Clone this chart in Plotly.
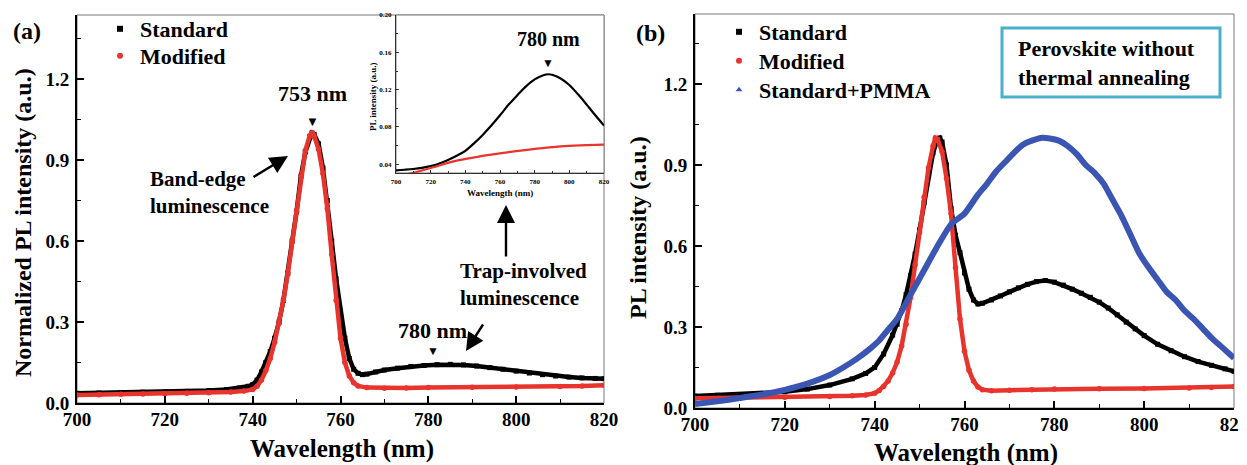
import plotly.graph_objects as go

# ---------------- DATA ----------------
# Panel (a): normalized PL
a_std_x = [700, 705, 710, 715, 720, 725, 730, 734, 737, 739, 740, 741, 742, 743, 744, 745, 746, 747, 748, 749,
           750, 751, 752, 753, 753.5, 754, 755, 756, 757, 758, 759, 760, 761, 762, 763, 764, 765, 766, 768, 770,
           773, 776, 779, 782, 785, 788, 791, 794, 797, 800, 803, 806, 809, 812, 815, 818, 820]
a_std_y = [0.036, 0.037, 0.038, 0.040, 0.041, 0.043, 0.046, 0.050, 0.055, 0.062, 0.068, 0.085, 0.115, 0.150, 0.190,
           0.240, 0.300, 0.380, 0.480, 0.600, 0.710, 0.840, 0.930, 0.985, 1.000, 0.995, 0.960, 0.870, 0.750, 0.600,
           0.460, 0.340, 0.240, 0.165, 0.125, 0.110, 0.105, 0.107, 0.115, 0.122, 0.129, 0.135, 0.139, 0.142, 0.143,
           0.141, 0.137, 0.131, 0.125, 0.118, 0.111, 0.105, 0.100, 0.096, 0.093, 0.091, 0.090]

a_mod_x = [700, 705, 710, 715, 720, 725, 730, 735, 738, 740, 741, 742, 743, 744, 745, 746, 747, 748, 749, 750,
           751, 752, 753, 753.5, 754, 755, 756, 757, 758, 759, 760, 761, 762, 763, 764, 766, 770, 775, 780, 790,
           800, 810, 815, 820]
a_mod_y = [0.030, 0.031, 0.032, 0.033, 0.034, 0.036, 0.038, 0.041, 0.044, 0.050, 0.062, 0.085, 0.120, 0.165, 0.225,
           0.295, 0.380, 0.480, 0.600, 0.710, 0.840, 0.935, 0.990, 1.000, 0.990, 0.940, 0.850, 0.720, 0.550, 0.380,
           0.240, 0.150, 0.100, 0.075, 0.063, 0.057, 0.055, 0.056, 0.057, 0.058, 0.059, 0.061, 0.063, 0.066]

# Inset (raw PL)
in_std_x = [700, 705, 710, 715, 720, 725, 730, 735, 740, 745, 750, 755, 760, 765, 770, 775, 780, 785, 788, 790,
            795, 800, 805, 810, 815, 820]
in_std_y = [0.0336, 0.0342, 0.0350, 0.0362, 0.0380, 0.0408, 0.0447, 0.0492, 0.0545, 0.0625, 0.0715, 0.0815,
            0.0925, 0.1040, 0.1140, 0.1235, 0.1310, 0.1355, 0.1365, 0.1360, 0.1320, 0.1250, 0.1150, 0.1040,
            0.0925, 0.0815]
in_mod_x = [700, 708, 720, 735, 750, 765, 780, 795, 810, 820]
in_mod_y = [0.0270, 0.0300, 0.0360, 0.0440, 0.0490, 0.0530, 0.0565, 0.0592, 0.0605, 0.0612]

# Panel (b): PL intensity
b_std_x = [700, 705, 710, 715, 720, 725, 730, 735, 738, 740, 742, 744, 745, 746, 747, 748, 749, 750, 751, 752,
           753, 754, 754.5, 755, 756, 757, 758, 759, 760, 761, 762, 763, 764, 766, 768, 770, 772, 774, 776, 778,
           780, 782, 784, 786, 788, 790, 792, 794, 796, 798, 800, 803, 806, 809, 812, 815, 818, 820]
b_std_y = [0.044, 0.047, 0.050, 0.054, 0.060, 0.070, 0.085, 0.108, 0.128, 0.150, 0.200, 0.270, 0.310, 0.360,
           0.420, 0.490, 0.570, 0.660, 0.760, 0.860, 0.945, 0.995, 1.000, 0.985, 0.900, 0.740, 0.640, 0.575,
           0.500, 0.440, 0.400, 0.385, 0.388, 0.400, 0.415, 0.430, 0.445, 0.458, 0.468, 0.472, 0.466, 0.455,
           0.440, 0.425, 0.410, 0.392, 0.370, 0.345, 0.318, 0.293, 0.268, 0.236, 0.212, 0.190, 0.172, 0.158,
           0.145, 0.136]

b_mod_x = [700, 710, 720, 730, 735, 738, 740, 741, 742, 743, 744, 745, 746, 747, 748, 749, 750, 751, 752, 753,
           753.5, 754, 755, 756, 757, 758, 759, 760, 761, 762, 763, 764, 766, 770, 775, 780, 790, 800, 810, 815, 820]
b_mod_y = [0.036, 0.038, 0.040, 0.043, 0.045, 0.048, 0.055, 0.065, 0.080, 0.100, 0.130, 0.170, 0.230, 0.310,
           0.410, 0.530, 0.650, 0.780, 0.890, 0.970, 1.000, 0.995, 0.950, 0.850, 0.720, 0.520, 0.330, 0.210,
           0.140, 0.100, 0.078, 0.068, 0.064, 0.066, 0.068, 0.070, 0.071, 0.072, 0.074, 0.076, 0.080]

b_pmma_x = [700, 705, 710, 715, 720, 725, 730, 733, 736, 739, 741, 743, 745, 748, 751, 754, 757, 760, 763, 765,
            767, 769, 771, 773, 775, 777, 779, 781, 783, 785, 787, 789, 791, 793, 795, 797, 799, 801, 803, 805,
            807, 809, 811, 813, 815, 817, 819, 820]
b_pmma_y = [0.015, 0.025, 0.037, 0.050, 0.067, 0.090, 0.122, 0.150, 0.182, 0.220, 0.250, 0.290, 0.330, 0.420,
            0.510, 0.600, 0.680, 0.720, 0.790, 0.830, 0.875, 0.910, 0.945, 0.975, 0.990, 1.000, 0.998, 0.990,
            0.970, 0.940, 0.900, 0.870, 0.830, 0.770, 0.710, 0.640, 0.570, 0.520, 0.475, 0.430, 0.400, 0.360,
            0.330, 0.295, 0.260, 0.230, 0.200, 0.185]

x_ticks = [700, 720, 740, 760, 780, 800, 820]
y_ticks = [0.0, 0.3, 0.6, 0.9, 1.2]
inset_y_ticks = [0.04, 0.08, 0.12, 0.16, 0.20]

# ---------------- STYLE ----------------
OFF = 8                      # page body margin of the html page
W, H = 1247, 465
FONT = "Liberation Serif, Times New Roman, serif"
BLACK = "#000000"
RED = "#E8342C"
BLUE = "#3A56B2"
CYAN = "#4AAFCB"


def PX(x):
    return (x - OFF) / W


def PY(y):
    return 1 - (y - OFF) / H


fig = go.Figure()

# panel a
fig.add_trace(go.Scatter(x=a_std_x, y=a_std_y, mode="lines+markers", xaxis="x", yaxis="y",
                         line=dict(color=BLACK, width=4.5), marker=dict(symbol="square", size=5, color=BLACK),
                         showlegend=False))
fig.add_trace(go.Scatter(x=a_mod_x, y=a_mod_y, mode="lines+markers", xaxis="x", yaxis="y",
                         line=dict(color=RED, width=4.5), marker=dict(symbol="circle", size=5.5, color=RED),
                         showlegend=False))
# inset
fig.add_trace(go.Scatter(x=in_std_x, y=in_std_y, mode="lines", xaxis="x3", yaxis="y3",
                         line=dict(color=BLACK, width=2.2, shape="spline"), showlegend=False))
fig.add_trace(go.Scatter(x=in_mod_x, y=in_mod_y, mode="lines", xaxis="x3", yaxis="y3",
                         line=dict(color=RED, width=2.2, shape="spline"), showlegend=False))
# panel b
fig.add_trace(go.Scatter(x=b_std_x, y=b_std_y, mode="lines+markers", xaxis="x2", yaxis="y2",
                         line=dict(color=BLACK, width=4.5), marker=dict(symbol="square", size=5, color=BLACK),
                         showlegend=False))
fig.add_trace(go.Scatter(x=b_mod_x, y=b_mod_y, mode="lines+markers", xaxis="x2", yaxis="y2",
                         line=dict(color=RED, width=4.5), marker=dict(symbol="circle", size=5.5, color=RED),
                         showlegend=False))
fig.add_trace(go.Scatter(x=b_pmma_x, y=b_pmma_y, mode="lines", xaxis="x2", yaxis="y2",
                         line=dict(color=BLUE, width=6, shape="spline", smoothing=0.6), showlegend=False))

# legend-only entries, one legend box per entry so each row can be placed like the reference
legend_items = [("Standard", "square", BLACK, "legend", 120, 29),
                ("Modified", "circle", RED, "legend2", 120, 56),
                ("Standard", "square", BLACK, "legend3", 739, 32),
                ("Modified", "circle", RED, "legend4", 739, 61),
                ("Standard+PMMA", "triangle-up", BLUE, "legend5", 739, 90)]
legend_layout = {}
for name, sym, col, lg, mx, my in legend_items:
    fig.add_trace(go.Scatter(x=[None], y=[None], mode="markers", name=name, legend=lg,
                             marker=dict(symbol=sym, size=6, color=col), showlegend=True))
    legend_layout[lg] = dict(x=PX(mx - 20), y=PY(my), xanchor="left", yanchor="middle",
                             bgcolor="rgba(0,0,0,0)", borderwidth=0,
                             font=dict(family=FONT, size=22, color="black", weight="bold"))

tickfont = dict(family=FONT, size=19, color="black", weight="bold")
common_x = dict(range=[700, 820], tickvals=x_ticks, ticks="inside", ticklen=7, tickwidth=1.5, tickcolor="black",
                minor=dict(dtick=10, ticks="inside", ticklen=4, tickwidth=1.2, tickcolor="black"),
                showline=True, linewidth=2, linecolor="black", showgrid=False, zeroline=False,
                tickfont=tickfont, ticklabelstandoff=-2, automargin=False)
common_y = dict(tickvals=y_ticks, tickformat=".1f", ticks="inside", ticklen=7, tickwidth=1.5, tickcolor="black",
                minor=dict(dtick=0.15, ticks="inside", ticklen=4, tickwidth=1.2, tickcolor="black"),
                showline=True, linewidth=2, linecolor="black", showgrid=False, zeroline=False,
                tickfont=tickfont, ticklabelstandoff=2, automargin=False)

inset_font = dict(family=FONT, size=7, color="black", weight="bold")

fig.update_layout(
    width=W, height=H, margin=dict(l=0, r=0, t=0, b=0, autoexpand=False),
    paper_bgcolor="white", plot_bgcolor="rgba(0,0,0,0)",
    font=dict(family=FONT, color="black", weight="bold"),
    xaxis=dict(domain=[PX(77), PX(604)], anchor="y", **common_x),
    yaxis=dict(domain=[PY(403), PY(15)], anchor="x", range=[0, 1.437], **common_y),
    xaxis2=dict(domain=[PX(695), PX(1234)], anchor="y2", **common_x),
    yaxis2=dict(domain=[PY(408), PY(14)], anchor="x2", range=[0, 1.459], **common_y),
    xaxis3=dict(domain=[PX(396), PX(604)], anchor="y3", range=[700, 820], tickvals=x_ticks,
                ticks="inside", ticklen=3, tickwidth=0.8, tickcolor="#333",
                minor=dict(dtick=10, ticks="inside", ticklen=2, tickcolor="#333"),
                showline=True, linewidth=1, linecolor="#333", showgrid=False, zeroline=False,
                tickfont=inset_font, ticklabelstandoff=2, automargin=False),
    yaxis3=dict(domain=[PY(173), PY(15)], anchor="x3", range=[0.0307, 0.20], tickvals=inset_y_ticks,
                tickformat=".2f", ticks="inside", ticklen=3, tickwidth=0.8, tickcolor="#333",
                minor=dict(dtick=0.02, ticks="inside", ticklen=2, tickcolor="#333"),
                showline=True, linewidth=1, linecolor="#333", showgrid=False, zeroline=False,
                tickfont=inset_font, ticklabelstandoff=2, automargin=False),
    **legend_layout,
)

shapes = []
# gray frames
for (l, t, r, b) in [(77, 15, 604, 403), (695, 14, 1234, 408), (396, 15, 604, 173)]:
    shapes.append(dict(type="rect", xref="paper", yref="paper", x0=PX(l), x1=PX(r), y0=PY(b), y1=PY(t),
                       line=dict(color="#7a7a7a", width=1), layer="below", fillcolor="white"))
# cyan box
shapes.append(dict(type="rect", xref="paper", yref="paper", x0=PX(1002), x1=PX(1220), y0=PY(97), y1=PY(28),
                   line=dict(color=CYAN, width=3)))
fig.update_layout(shapes=shapes)


def txt(x, y, s, size, xanchor="center", align="center", textangle=0):
    return dict(x=PX(x), y=PY(y), xref="paper", yref="paper", text=s, showarrow=False,
                xanchor=xanchor, yanchor="middle", align=align, textangle=textangle,
                font=dict(family=FONT, size=size, color="black", weight="bold"))


def arrow(hx, hy, tx, ty):
    return dict(x=PX(hx), y=PY(hy), xref="paper", yref="paper", text="", showarrow=True,
                ax=tx - hx, ay=ty - hy, arrowhead=2, arrowsize=1.5, arrowwidth=2.4, arrowcolor="black")


ann = [
    txt(27, 31, "(a)", 24),
    txt(650, 33, "(b)", 24),
    txt(23, 223, "Normalized PL intensity (a.u.)", 24, textangle=-90),
    txt(638, 228, "PL intensity (a.u.)", 24, textangle=-90),
    txt(342, 449, "Wavelength (nm)", 25),
    txt(966, 453, "Wavelength (nm)", 25),
    txt(312, 93, "753 nm", 22),
    txt(312, 121, "▼", 13),
    txt(148, 192, "Band-edge<br>luminescence", 21, xanchor="left", align="left"),
    arrow(288, 156, 252, 178),
    txt(458, 284, "Trap-involved<br>luminescence", 21, xanchor="left", align="left"),
    arrow(506, 205, 506, 258),
    arrow(466, 351, 484, 323),
    txt(432, 330, "780 nm", 22),
    txt(433, 351, "▼", 12),
    txt(548, 39, "780 nm", 20),
    txt(548, 63, "▼", 12),
    txt(373, 97, "PL intensity (a.u.)", 9, textangle=-90),
    txt(500, 193, "Wavelength (nm)", 9),
    txt(1016, 63, "Perovskite without<br>thermal annealing", 22, xanchor="left", align="left"),
]
fig.update_layout(annotations=ann)

fig.write_html("out.html")
